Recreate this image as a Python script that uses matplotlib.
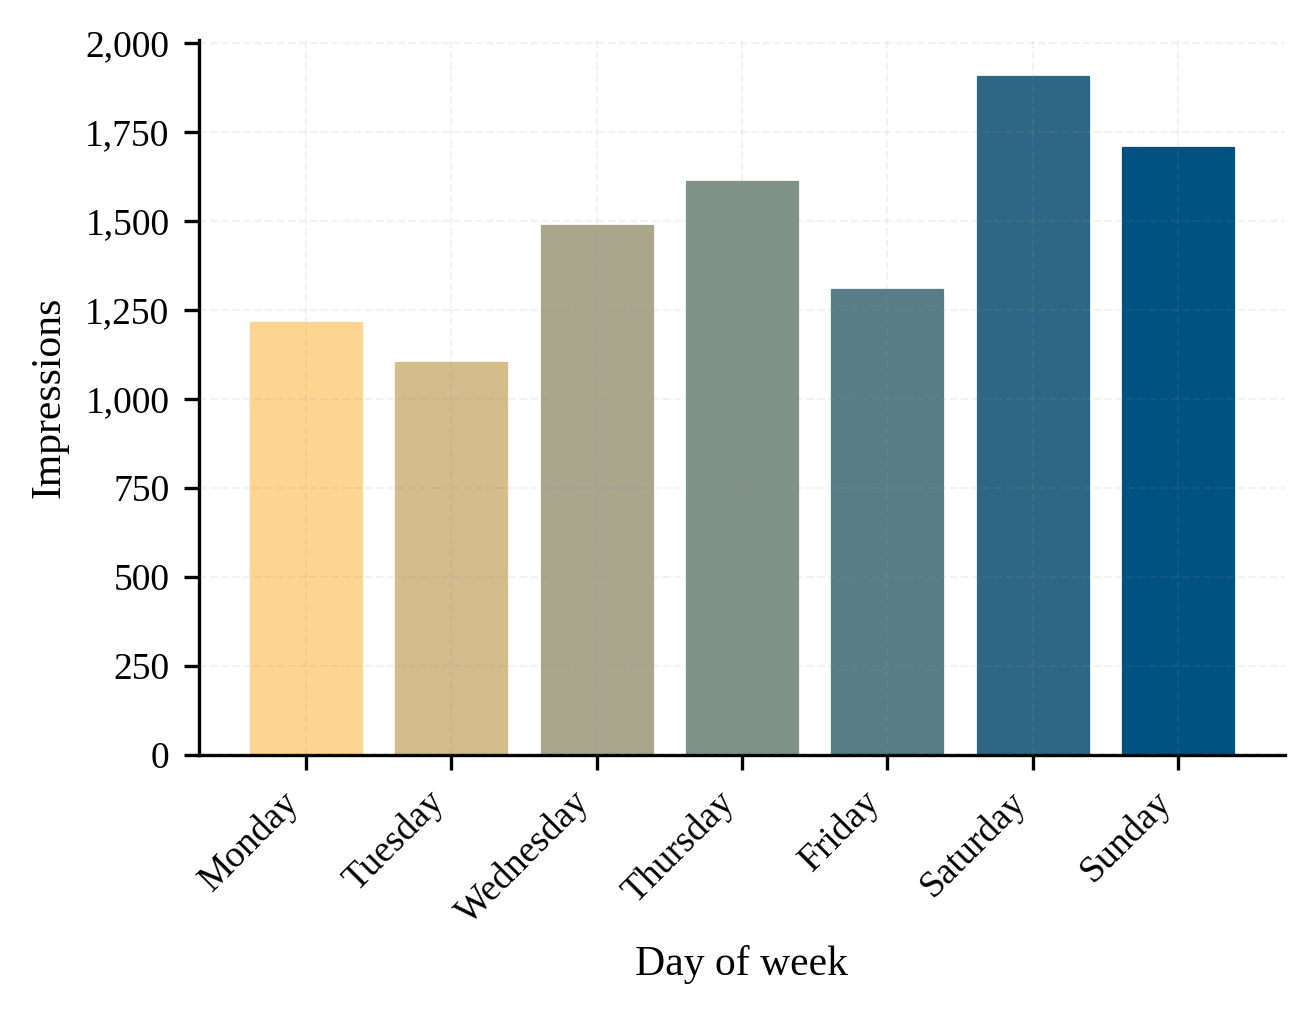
import matplotlib
matplotlib.use("Agg")
import matplotlib.pyplot as plt
from matplotlib.ticker import FuncFormatter

days = ["Monday", "Tuesday", "Wednesday", "Thursday", "Friday", "Saturday", "Sunday"]
impressions = [1216, 1104, 1489, 1612, 1309, 1907, 1708]
colors = ["#FFD591", "#D4BC8C", "#A8A68B", "#809289", "#577D86", "#2D6784", "#005281"]
yticks = [0, 250, 500, 750, 1000, 1250, 1500, 1750, 2000]

plt.rcParams['font.family'] = ['Liberation Serif', 'DejaVu Serif']

fig = plt.figure(figsize=(1315/300, 1015/300), dpi=300)
ax = fig.add_axes([0.1513, 0.2562, 0.9772 - 0.1513, 0.9606 - 0.2562])

x = list(range(len(days)))
ax.bar(x, impressions, width=0.77, color=colors, edgecolor=colors, linewidth=0.3, zorder=2)

ax.set_xlim(-0.736, 6.736)
ax.set_ylim(0, 2008)
ax.set_yticks(yticks)
ax.yaxis.set_major_formatter(FuncFormatter(lambda v, p: f"{int(v):,}"))
ax.set_xticks(x)
ax.set_xticklabels(days, rotation=45, ha='right')

ax.grid(True, linestyle='--', linewidth=0.5, color='#999999', alpha=0.12, zorder=3)
ax.set_axisbelow(False)

for s in ['top', 'right']:
    ax.spines[s].set_visible(False)
for s in ['left', 'bottom']:
    ax.spines[s].set_linewidth(0.8)

ax.tick_params(axis='both', labelsize=9, length=3.6, width=0.8, color='black')
ax.set_xlabel("Day of week", fontsize=10, labelpad=3.5)
ax.set_ylabel("Impressions", fontsize=10, labelpad=4)

fig.savefig("out.png", dpi=300)
